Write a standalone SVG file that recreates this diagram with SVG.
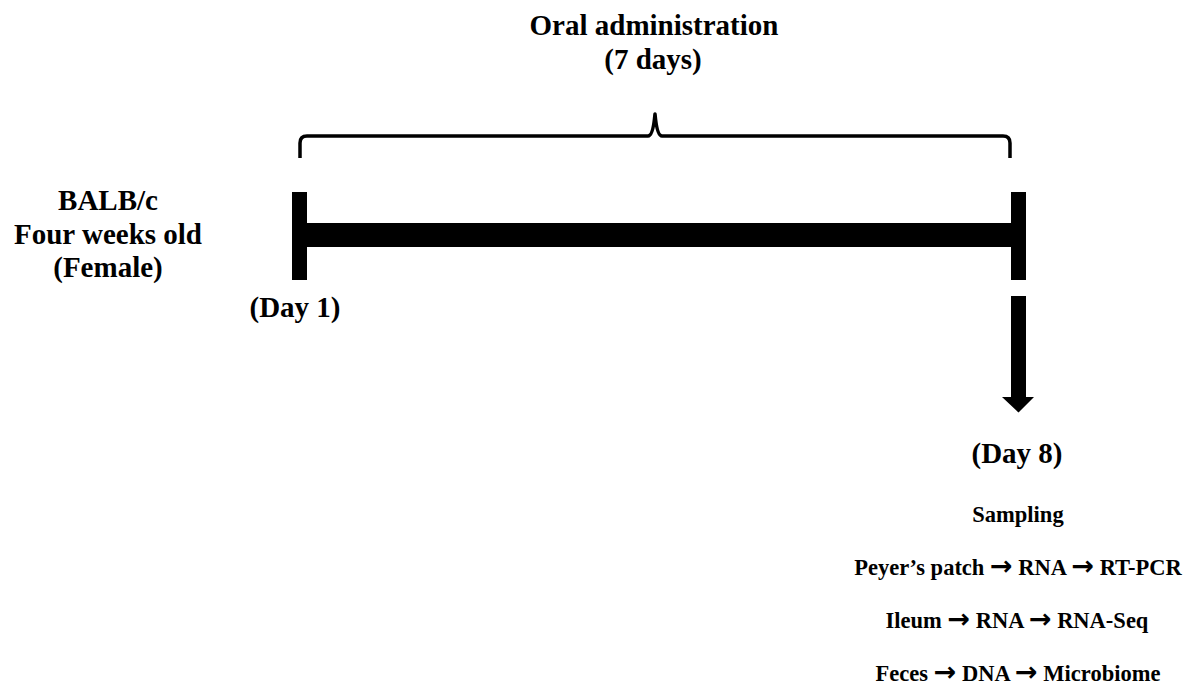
<svg xmlns="http://www.w3.org/2000/svg" width="1194" height="689" viewBox="0 0 1194 689">
<style>
.t{font-family:"Liberation Serif","Times New Roman",serif;font-weight:bold;fill:#000;text-anchor:middle}
.big{font-size:29px}
.small{font-size:22.5px}
.ar{font-size:27px;font-family:"DejaVu Sans","Liberation Sans",sans-serif;font-weight:bold}
.br{fill:none;stroke:#000;stroke-width:3.5;stroke-linejoin:round}
</style>
<rect width="1194" height="689" fill="#fff"/>
<g id="title">
<text class="t big" x="654" y="35">Oral administration</text>
<text class="t big" x="653" y="69">(7 days)</text>
</g>
<g id="bracket">
<path class="br" d="M300,158 L300,143 Q300,136 307,136 L648,136 Q653,136 655,114 Q657,136 662,136 L1003,136 Q1010,136 1010,143 L1010,158"/>
</g>
<g id="mouse">
<text class="t big" x="108" y="210">BALB/c</text>
<text class="t big" x="108" y="244">Four weeks old</text>
<text class="t big" x="108" y="277">(Female)</text>
</g>
<g id="timeline">
<rect x="292" y="192" width="15" height="88" fill="#000"/>
<rect x="307" y="223" width="704" height="24" fill="#000"/>
<rect x="1011" y="192" width="15" height="88" fill="#000"/>
</g>
<g id="day1">
<text class="t big" x="295" y="317">(Day 1)</text>
</g>
<g id="connectors">
<path d="M1011,296 L1026,296 L1026,397 L1034,397 L1018.5,412.5 L1002,397 L1011,397 Z" fill="#000"/>
</g>
<g id="day8">
<text class="t big" x="1017" y="463">(Day 8)</text>
<text class="t small" x="1018" y="522">Sampling</text>
<text class="t small" x="1018" y="575">Peyer’s patch <tspan class="ar">→</tspan> RNA <tspan class="ar">→</tspan> RT-PCR</text>
<text class="t small" x="1017" y="628">Ileum <tspan class="ar">→</tspan> RNA <tspan class="ar">→</tspan> RNA-Seq</text>
<text class="t small" x="1018" y="681">Feces <tspan class="ar">→</tspan> DNA <tspan class="ar">→</tspan> Microbiome</text>
</g>
</svg>
